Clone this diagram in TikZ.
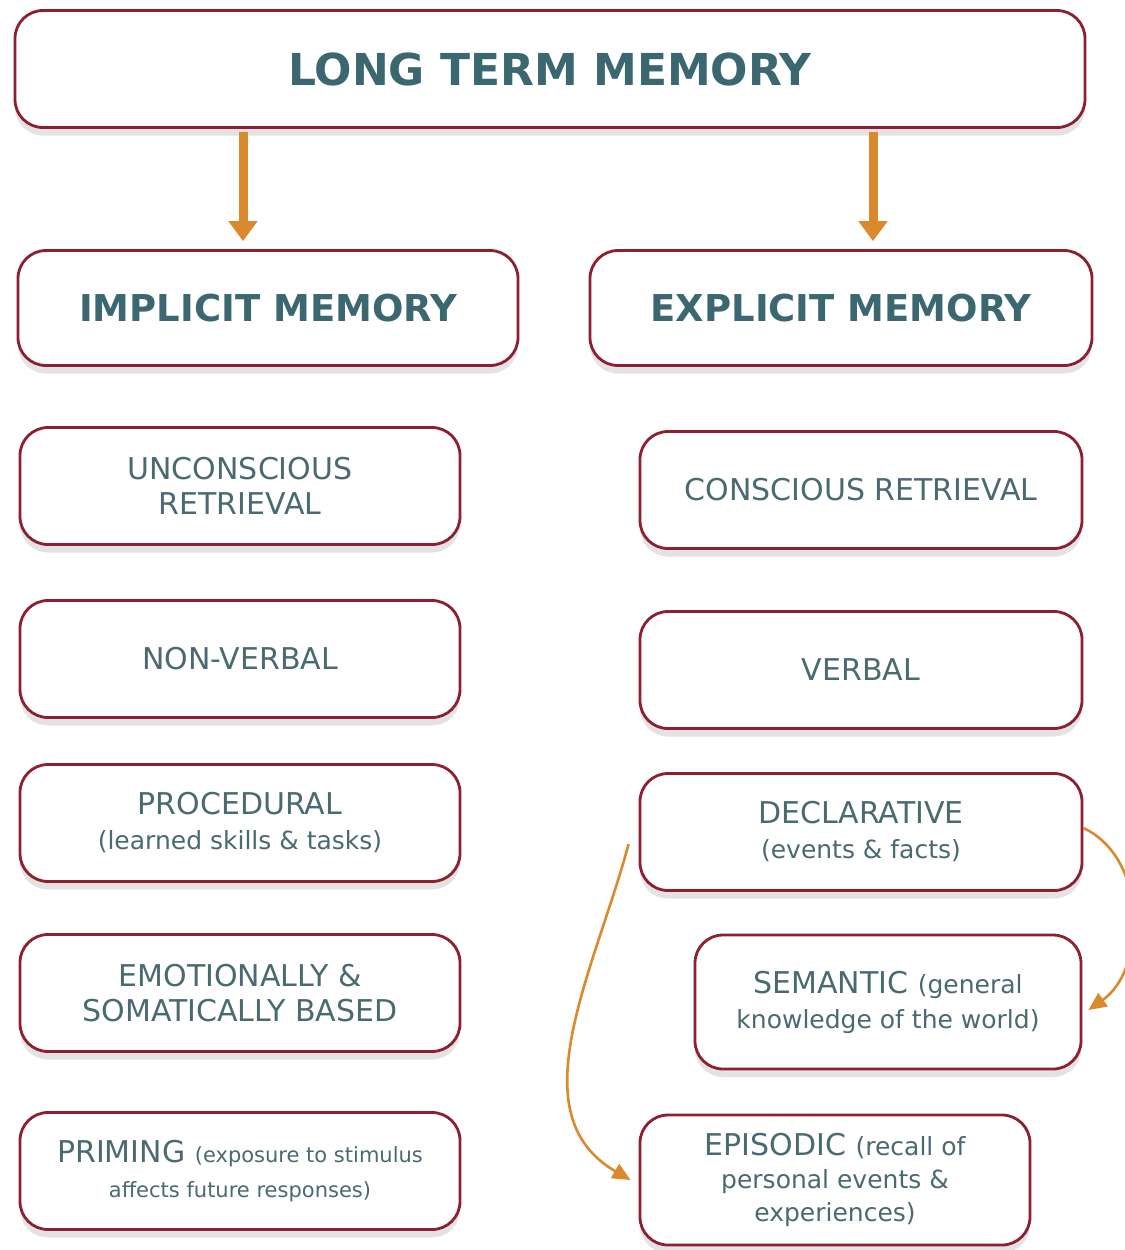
\documentclass[tikz,border=0pt]{standalone}
\usepackage{fontspec}
\setmainfont{DejaVu Sans}
\usetikzlibrary{shadows,arrows.meta}
\definecolor{boxred}{HTML}{8E1F2F}
\definecolor{txtgray}{HTML}{4A6A72}
\definecolor{headteal}{HTML}{3B6870}
\definecolor{arrorange}{HTML}{DA8A2C}
\newcommand\smtxt{\fontsize{12.5}{16}\selectfont}
\newcommand\tinytxt{\fontsize{10.5}{15}\selectfont}
\tikzset{
  membox/.style={draw=boxred, line width=1.4pt, rounded corners=14pt, fill=white,
    align=center, text=txtgray, font=\fontsize{15}{17.5}\selectfont,
    minimum width=220pt, minimum height=58.5pt, inner sep=2pt,
    drop shadow={shadow xshift=0pt, shadow yshift=-4pt, opacity=0.22, fill=gray}},
  headbox/.style={membox, text=headteal, font=\bfseries\fontsize{18.5}{22}\selectfont},
  bigarrow/.style={draw=arrorange, line width=4.5pt, -{Triangle[length=10pt,width=14pt]}},
  curvarrow/.style={draw=arrorange, line width=1.3pt, -{Triangle[length=9pt,width=8pt]}}
}
\begin{document}
\begin{tikzpicture}[x=0.5pt,y=-0.5pt]
  \fill[white] (0,0) rectangle (1125,1250);
  \useasboundingbox (0,0) rectangle (1125,1250);
  % top
  \node[headbox, minimum width=535pt, font=\bfseries\fontsize{22}{26}\selectfont] (ltm) at (550,69) {LONG TERM MEMORY};
  \node[headbox, minimum width=250pt, minimum height=57.5pt] (imp) at (268,308) {IMPLICIT MEMORY};
  \node[headbox, minimum width=251pt, minimum height=57.5pt] (exp) at (841,308) {EXPLICIT MEMORY};
  % left column
  \node[membox] (uncon) at (240,486) {UNCONSCIOUS\\RETRIEVAL};
  \node[membox] (nonverb) at (240,659) {NON-VERBAL};
  \node[membox] (proc) at (240,823) {PROCEDURAL\\{\smtxt(learned skills \& tasks)}};
  \node[membox] (emo) at (240,993) {EMOTIONALLY \&\\SOMATICALLY BASED};
  \node[membox] (prim) at (240,1171) {PRIMING {\tinytxt(exposure to stimulus}\\{\tinytxt affects future responses)}};
  % right column
  \node[membox, minimum width=221pt] (con) at (861,490) {CONSCIOUS RETRIEVAL};
  \node[membox, minimum width=221pt] (verb) at (861,670) {VERBAL};
  \node[membox, minimum width=221pt] (decl) at (861,832) {DECLARATIVE\\{\smtxt(events \& facts)}};
  \node[membox, minimum width=193pt, minimum height=67pt] (sem) at (888,1002) {SEMANTIC {\smtxt(general}\\{\smtxt knowledge of the world)}};
  \node[membox, minimum width=195pt, minimum height=65pt, font=\fontsize{15}{16.5}\selectfont] (epi) at (835,1180) {EPISODIC {\smtxt(recall of}\\{\smtxt personal events \&}\\{\smtxt experiences)}};
  % arrows
  \coordinate (a1) at (243,128);
  \coordinate (a2) at (873,128);
  \draw[bigarrow, shorten <=2pt, shorten >=4pt] (a1) -- (a1 |- imp.north);
  \draw[bigarrow, shorten <=2pt, shorten >=4pt] (a2) -- (a2 |- exp.north);
  \draw[curvarrow] ([yshift=2pt]decl.east) to[out=-25, in=35] ([xshift=3pt,yshift=-4pt]sem.east);
  \draw[curvarrow] ([xshift=-5pt,yshift=-6pt]decl.west) to[out=-105, in=150] ([xshift=-4pt]epi.west);
\end{tikzpicture}
\end{document}
